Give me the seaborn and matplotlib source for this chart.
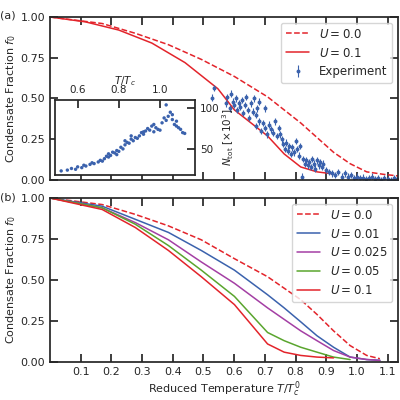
import numpy as np
import pandas as pd
import matplotlib
matplotlib.use("Agg")
import matplotlib.pyplot as plt
import seaborn as sns

sns.set_theme(style="ticks")
plt.rcParams['font.family'] = ['DejaVu Sans']
plt.rcParams.update({'font.size': 8, 'axes.labelsize': 8, 'legend.fontsize': 8.5,
                     'xtick.labelsize': 8, 'ytick.labelsize': 8,
                     'xtick.direction': 'in', 'ytick.direction': 'in',
                     'xtick.top': True, 'ytick.right': True, 'mathtext.fontset': 'dejavusans'})

RED = '#e3242b'
BLUE = '#3b62ad'
MAGENTA = '#a43fa4'
GREEN = '#5aa52e'

# panel (a) theory
t_a0 = [0.0, 0.17, 0.278, 0.386, 0.493, 0.601, 0.709, 0.817, 0.924, 0.978, 1.032, 1.086, 1.134]
f_a0 = [1.0, 0.96, 0.90, 0.83, 0.74, 0.635, 0.51, 0.35, 0.17, 0.10, 0.05, 0.035, 0.025]
t_a1 = [0.0, 0.116, 0.224, 0.332, 0.44, 0.547, 0.601, 0.709, 0.763, 0.817, 0.87, 0.924]
f_a1 = [1.0, 0.97, 0.92, 0.84, 0.72, 0.56, 0.43, 0.27, 0.16, 0.08, 0.05, 0.037]

# panel (a) experiment
exp_t = [0.528, 0.536, 0.572, 0.578, 0.585, 0.59, 0.596, 0.60, 0.605, 0.61, 0.615, 0.62,
         0.625, 0.63, 0.635, 0.64, 0.645, 0.65, 0.655, 0.66, 0.665, 0.67, 0.675, 0.68,
         0.70, 0.672, 0.68, 0.688, 0.695, 0.70, 0.707, 0.713, 0.72, 0.726, 0.733, 0.74,
         0.745, 0.75, 0.755, 0.76, 0.765, 0.77, 0.775, 0.78, 0.785, 0.79, 0.795, 0.80,
         0.805, 0.81, 0.815, 0.825, 0.83, 0.835, 0.84, 0.845, 0.85, 0.855, 0.86, 0.865,
         0.87, 0.875, 0.88, 0.885, 0.89, 0.82, 0.90, 0.91, 0.92, 0.93, 0.94, 0.95, 0.96,
         0.97, 0.98, 0.99, 1.00, 1.01, 1.02, 1.03, 1.04, 1.05, 1.06, 1.07, 1.08, 1.09,
         1.10, 1.11, 1.12, 1.13]
exp_f = [0.506, 0.564, 0.47, 0.51, 0.44, 0.53, 0.48, 0.46, 0.50, 0.43, 0.47, 0.45,
         0.49, 0.41, 0.46, 0.51, 0.43, 0.38, 0.47, 0.42, 0.50, 0.40, 0.44, 0.48,
         0.44, 0.33, 0.36, 0.30, 0.35, 0.32, 0.28, 0.34, 0.31, 0.29, 0.36, 0.27,
         0.32, 0.28, 0.25, 0.22, 0.19, 0.23, 0.18, 0.21, 0.16, 0.20, 0.17, 0.24,
         0.19, 0.15, 0.21, 0.13, 0.10, 0.12, 0.09, 0.11, 0.08, 0.13, 0.10, 0.07,
         0.12, 0.09, 0.11, 0.08, 0.10, 0.02, 0.06, 0.05, 0.04, 0.03, 0.05, 0.02,
         0.04, 0.02, 0.03, 0.01, 0.02, 0.01, 0.015, 0.005, 0.01, 0.02, 0.005, 0.01,
         0.0, 0.01, 0.005, 0.0, 0.01, 0.005]

# inset
in_t = [0.52, 0.55, 0.57, 0.59, 0.60, 0.62, 0.63, 0.64, 0.66, 0.67, 0.68, 0.70, 0.71,
        0.72, 0.73, 0.74, 0.75, 0.76, 0.77, 0.78, 0.79, 0.80, 0.81, 0.82, 0.83, 0.84,
        0.85, 0.86, 0.87, 0.88, 0.89, 0.90, 0.91, 0.92, 0.93, 0.94, 0.95, 0.96, 0.97,
        0.98, 0.99, 1.00, 1.01, 1.02, 1.03, 1.04, 1.05, 1.06, 1.07, 1.08, 1.09, 1.10,
        1.11, 1.12, 0.75, 0.79, 0.83, 0.86, 0.92, 0.97, 1.03, 1.06, 1.08]
in_n = [23, 24, 26, 25, 28, 27, 30, 29, 31, 33, 32, 34, 36, 35, 38, 41, 44, 42, 46,
        45, 48, 47, 52, 50, 55, 58, 57, 62, 60, 64, 63, 66, 70, 68, 72, 75, 73, 78,
        71, 76, 74, 73, 82, 88, 85, 90, 95, 86, 80, 78, 76, 74, 70, 69, 40, 43, 60,
        66, 71, 80, 104, 92, 84]

# panel (b)
tb = [0.0, 0.17, 0.278, 0.386, 0.493, 0.601, 0.709, 0.763, 0.817, 0.87, 0.924, 0.978, 1.032, 1.075]
fb = {
    r'$U = 0.0$': [1.0, 0.96, 0.90, 0.83, 0.745, 0.63, 0.52, 0.45, 0.38, 0.29, 0.19, 0.10, 0.04, 0.02],
    r'$U = 0.01$': [1.0, 0.95, 0.87, 0.79, 0.68, 0.56, 0.41, 0.33, 0.245, 0.16, 0.09, 0.03, 0.015, 0.01],
    r'$U = 0.025$': [1.0, 0.94, 0.85, 0.745, 0.61, 0.48, 0.33, 0.26, 0.19, 0.13, 0.07, 0.03, 0.015, 0.01],
    r'$U = 0.05$': [1.0, 0.94, 0.84, 0.71, 0.56, 0.40, 0.18, 0.13, 0.09, 0.06, 0.03, 0.015, np.nan, np.nan],
    r'$U = 0.1$': [1.0, 0.93, 0.82, 0.68, 0.52, 0.35, 0.11, 0.06, 0.04, 0.03, 0.025, np.nan, np.nan, np.nan],
}
colors_b = [RED, BLUE, MAGENTA, GREEN, RED]

fig = plt.figure(figsize=(4, 4), dpi=100)
ax1 = fig.add_axes([0.125, 0.55, 0.87, 0.4075])
ax2 = fig.add_axes([0.125, 0.095, 0.87, 0.41])

sns.lineplot(x=t_a0, y=f_a0, ax=ax1, color=RED, linestyle='--', lw=1.1, label=r'$U = 0.0$')
sns.lineplot(x=t_a1, y=f_a1, ax=ax1, color=RED, lw=1.1, label=r'$U = 0.1$')
ax1.errorbar(exp_t, exp_f, yerr=0.02, fmt='o', ms=1.8, color=BLUE, elinewidth=0.8,
             label='Experiment')
ax1.legend(loc='upper right')

for (lab, vals), c in zip(fb.items(), colors_b):
    ls = '--' if lab == r'$U = 0.0$' else '-'
    sns.lineplot(x=tb, y=vals, ax=ax2, color=c, linestyle=ls, lw=1.1, label=lab)
ax2.legend(loc='upper right')

for ax in (ax1, ax2):
    ax.set_xlim(0, 1.134)
    ax.set_ylim(0, 1.0)
    ax.set_xticks([0.1, 0.2, 0.3, 0.4, 0.5, 0.6, 0.7, 0.8, 0.9, 1.0, 1.1])
    ax.set_yticks([0, 0.25, 0.5, 0.75, 1.0])
    ax.set_ylabel(r'Condensate Fraction $f_0$', labelpad=2)
ax1.set_xticklabels([])
ax2.set_xlabel(r'Reduced Temperature $T/T_c^0$', labelpad=2)
fig.text(0.0, 0.955, '(a)', fontsize=8)
fig.text(0.0, 0.5, '(b)', fontsize=8)

axin = fig.add_axes([0.1375, 0.5625, 0.35, 0.1875])
sns.scatterplot(x=in_t, y=in_n, ax=axin, color=BLUE, s=6, edgecolor='none')
axin.set_xlim(0.49, 1.17)
axin.set_ylim(18, 110)
axin.xaxis.tick_top()
axin.xaxis.set_label_position('top')
axin.yaxis.tick_right()
axin.yaxis.set_label_position('right')
axin.set_xticks([0.6, 0.8, 1.0])
axin.set_yticks([50, 100])
axin.tick_params(labelsize=7.5, direction='in', top=True, right=True, bottom=False, left=False)
axin.set_xlabel(r'$T/T_c$', fontsize=7.5, labelpad=1)
axin.set_ylabel(r'$N_{\rm tot}$ [$\times10^3$]', fontsize=7.5, labelpad=1)

fig.savefig('out.png', dpi=100)
